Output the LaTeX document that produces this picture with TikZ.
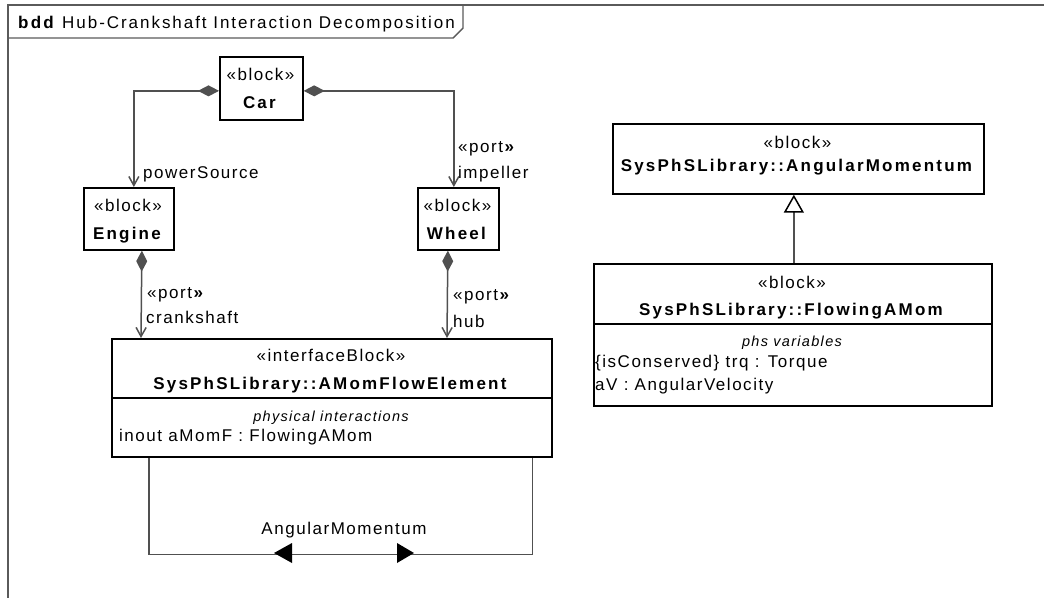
\documentclass[tikz,border=0pt]{standalone}
\usepackage{fontspec}
\setmainfont{Liberation Sans}[LetterSpace=9, BoldFeatures={LetterSpace=13}]
\usetikzlibrary{arrows.meta}
\definecolor{ln}{HTML}{505050}
\definecolor{fr}{HTML}{5A5A5A}
\newcommand\mainsz{\fontsize{17}{20}\selectfont}
\newcommand\smallit{\fontsize{14.5}{17}\selectfont\itshape}
\begin{document}
\begin{tikzpicture}[x=1pt,y=-1pt,
  every node/.style={font=\mainsz},
  blk/.style={draw=black, line width=1.7pt, fill=white, rectangle, inner sep=0pt, anchor=north west},
  lbl/.style={inner sep=0pt, anchor=base},
  lblw/.style={inner sep=0pt, anchor=base west},
  comp/.style={draw=ln, line width=1.5pt, {Diamond[length=21pt,width=11pt,fill=ln]}-{Straight Barb[length=9pt,width=10pt]}},
  conn/.style={draw=ln, line width=1.5pt},
  gen/.style={draw=ln, line width=1.5pt, -{Triangle[open,length=18pt,width=20pt,fill=white,color=black]}},
  flowtip/.style={fill=black, draw=none}
]
\useasboundingbox (0,0) rectangle (1044,598);
% frame
\draw[fr, line width=1.4pt] (1044,5) -- (8,5) -- (8,598);
\draw[fr, line width=1.4pt] (8,5) -- (463,5) -- (463,28) -- (453,38) -- (8,38);
\node[lblw] (title) at (18,28) {\textbf{bdd} \addfontfeatures{LetterSpace=11.5}Hub-Crankshaft Interaction Decomposition};

% blocks
\node[blk, minimum width=83pt, minimum height=63pt] (Car) at (219,56) {};
\node[blk, minimum width=90pt, minimum height=62pt] (Engine) at (83,187) {};
\node[blk, minimum width=81pt, minimum height=62pt] (Wheel) at (417,187) {};
\node[blk, minimum width=440pt, minimum height=118pt] (AMom) at (111,338) {};
\node[blk, minimum width=371pt, minimum height=70pt] (AngMom) at (612,123) {};
\node[blk, minimum width=398pt, minimum height=142pt] (Flow) at (593,263) {};

\draw[line width=1.7pt] (AMom.west |- 0,398) -- (AMom.east |- 0,398);
\draw[line width=1.7pt] (Flow.west |- 0,324) -- (Flow.east |- 0,324);

% block texts
\node[lbl] (carS) at (260.5,80) {«block»};
\node[lbl] (carN) at (260.5,108) {\textbf{Car}};
\node[lbl] (engS) at (128,211) {«block»};
\node[lbl] (engN) at (128,239) {\textbf{Engine}};
\node[lbl] (whS) at (457.5,211) {«block»};
\node[lbl] (whN) at (457.5,239) {\textbf{Wheel}};
\node[lbl] (amS) at (331,361) {«interfaceBlock»};
\node[lbl] (amN) at (331,389) {\textbf{SysPhSLibrary::AMomFlowElement}};
\node[lbl] (amC) at (331,421) {\smallit physical interactions};
\node[lblw] (amA) at (119,441) {inout aMomF : FlowingAMom};
\node[lbl] (angS) at (797.5,148) {«block»};
\node[lbl] (angN) at (797.5,171) {\textbf{SysPhSLibrary::AngularMomentum}};
\node[lbl] (flS) at (792,288) {«block»};
\node[lbl] (flN) at (792,315) {\textbf{SysPhSLibrary::FlowingAMom}};
\node[lbl] (flC) at (792,346) {\smallit phs variables};
\node[lblw] (flA1) at (595,367) {\{isConserved\} trq : Torque};
\node[lblw] (flA2) at (595,390) {aV : AngularVelocity};

% connectors
\draw[comp] ([yshift=-2.5pt]Car.west) -| ([xshift=5pt]Engine.north);
\draw[comp] ([yshift=-2.5pt]Car.east) -| ([xshift=-4.5pt]Wheel.north);
\draw[comp] ([xshift=13pt]Engine.south) -- ([xshift=30pt]AMom.north west);
\draw[comp] ([xshift=-10.5pt]Wheel.south) -- ([xshift=336pt]AMom.north west);
\draw[gen] ([xshift=1pt]Flow.north) -- ([xshift=-4.5pt]AngMom.south);

% self connector with flow arrows
\coordinate (sA) at ([xshift=38pt]AMom.south west);
\coordinate (sB) at ([xshift=-20pt]AMom.south east);
\draw[conn] (sA) -- ++(0,97) -| (sB);
\fill[flowtip] (274,553) -- (292,543) -- (292,563) -- cycle;
\fill[flowtip] (414,553) -- (397,543) -- (397,563) -- cycle;

% labels
\node[lblw] (lPS) at (143,178) {powerSource};
\node[lblw] (lIp) at (458,152) {«port\textbf{»}};
\node[lblw] (lIm) at (458,178) {impeller};
\node[lblw] (lCp) at (147,298) {«port\textbf{»}};
\node[lblw] (lCr) at (146,323) {crankshaft};
\node[lblw] (lHp) at (453,300) {«port\textbf{»}};
\node[lblw] (lHu) at (453,327) {hub};
\node[lbl] (lAM) at (344,534) {AngularMomentum};
\end{tikzpicture}
\end{document}
